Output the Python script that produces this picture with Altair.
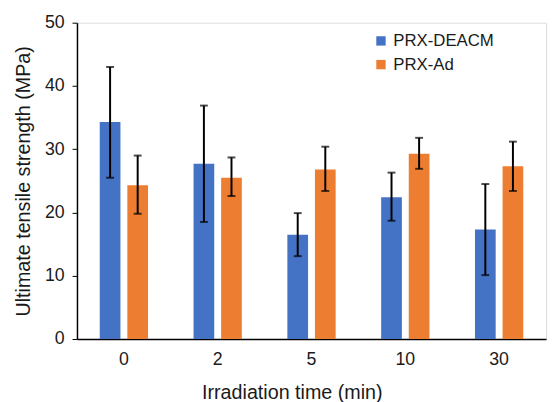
import altair as alt
import pandas as pd

categories = ["0", "2", "5", "10", "30"]
series = ["PRX-DEACM", "PRX-Ad"]
deacm_mean = [34.3, 27.7, 16.5, 22.4, 17.3]
deacm_low = [25.5, 18.5, 13.1, 18.7, 10.1]
deacm_high = [43.0, 36.9, 19.9, 26.3, 24.5]
ad_mean = [24.3, 25.5, 26.8, 29.3, 27.3]
ad_low = [19.8, 22.6, 23.4, 26.9, 23.4]
ad_high = [29.0, 28.7, 30.4, 31.8, 31.2]

rows = []
for i, c in enumerate(categories):
    rows.append(dict(time=c, series=series[0], mean=deacm_mean[i], lo=deacm_low[i], hi=deacm_high[i]))
    rows.append(dict(time=c, series=series[1], mean=ad_mean[i], lo=ad_low[i], hi=ad_high[i]))
df = pd.DataFrame(rows)

FONT = "Liberation Sans"
TXT = "#1a1a1a"

x = alt.X("time:N", sort=categories, title="Irradiation time (min)",
          scale=alt.Scale(paddingInner=0, paddingOuter=0),
          axis=alt.Axis(labelAngle=0, ticks=False, domainColor="#000", domainWidth=1.5,
                        labelFontSize=18, titleFontSize=20, labelPadding=12,
                        titleX=218, titleY=60, titleAlign="center", titleBaseline="alphabetic",
                        labelColor=TXT, titleColor=TXT, labelFont=FONT, titleFont=FONT,
                        titleFontWeight="normal"))
xo = alt.XOffset("series:N", sort=series,
                 scale=alt.Scale(paddingInner=0.25, paddingOuter=0.825))

bars = alt.Chart(df).mark_bar(width=21).encode(
    x=x, xOffset=xo,
    y=alt.Y("mean:Q", title="Ultimate tensile strength (MPa)",
            scale=alt.Scale(domain=[0, 50]),
            axis=alt.Axis(values=[0, 10, 20, 30, 40, 50], grid=False, tickSize=5,
                          tickColor="#000", domainColor="#000", domainWidth=1.5,
                          labelFontSize=18, titleFontSize=20, labelPadding=8, titlePadding=11,
                          labelColor=TXT, titleColor=TXT, labelFont=FONT, titleFont=FONT,
                          titleFontWeight="normal")),
    color=alt.Color("series:N", sort=series,
                    scale=alt.Scale(domain=series, range=["#4472C4", "#ED7D31"]),
                    legend=alt.Legend(title=None, orient="none", legendX=300, legendY=10,
                                      symbolType="square", symbolSize=90, symbolStrokeWidth=0,
                                      labelFontSize=17, labelFont=FONT, labelColor=TXT,
                                      rowPadding=6, labelOffset=4)),
)

rules = alt.Chart(df).mark_rule(color="black", strokeWidth=2).encode(
    x=x, xOffset=xo, y="lo:Q", y2="hi:Q")
caps_hi = alt.Chart(df).mark_tick(color="black", thickness=2, size=8, orient="horizontal").encode(
    x=x, xOffset=xo, y="hi:Q")
caps_lo = alt.Chart(df).mark_tick(color="black", thickness=2, size=8, orient="horizontal").encode(
    x=x, xOffset=xo, y="lo:Q")

chart = alt.layer(bars, rules, caps_hi, caps_lo).properties(
    width=476, height=321,
    autosize=alt.AutoSizeParams(type="none"),
    padding={"left": 70, "top": 12, "right": 2, "bottom": 61},
).configure_view(stroke=None).configure(background="white")

chart.save("out.html", embed_options={"renderer": "svg", "actions": False})
